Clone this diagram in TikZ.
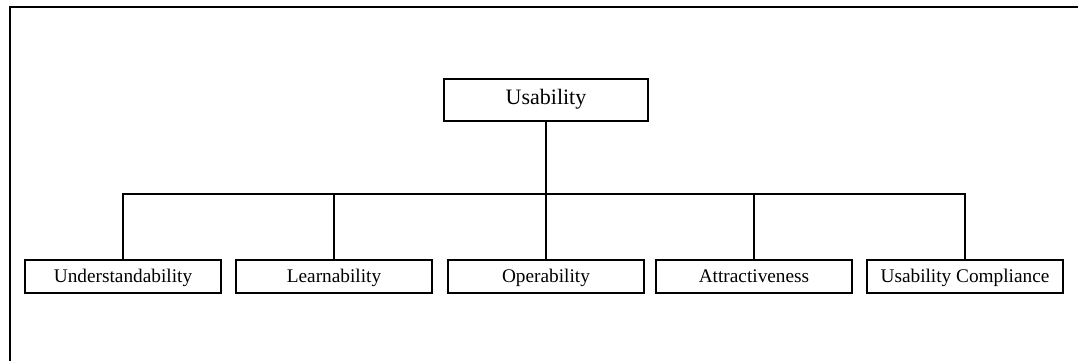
\documentclass[tikz,border=0pt]{standalone}
\usepackage{fontspec}
\setmainfont{Liberation Serif}
\begin{document}
\begin{tikzpicture}[x=1pt,y=-1pt,
  box/.style={draw, line width=2pt, inner sep=0pt, minimum width=196pt, minimum height=33pt, text height=12pt, text depth=0pt, font=\fontsize{19.3}{21}\selectfont},
  topbox/.style={draw, line width=2pt, inner sep=0pt, minimum width=204pt, minimum height=42pt, text height=9.5pt, text depth=0pt, font=\fontsize{22}{24}\selectfont},
  conn/.style={line width=1.9pt}]
\useasboundingbox (0,0) rectangle (1078,360);
\coordinate (fa) at (10,361);
\coordinate (fb) at (10,7);
\coordinate (fc) at (1079,7);
\draw[line width=2.6pt] (fa) -- (fb) -- (fc);
\node[topbox] (u) at (546,99.5) {Usability};
\node[box] (b1) at (123,276) {Understandability};
\node[box] (b2) at (334,276) {Learnability};
\node[box] (b3) at (546,276) {Operability};
\node[box] (b4) at (754,276) {Attractiveness};
\node[box] (b5) at (965,276) {Usability Compliance};
\coordinate (bus) at (546,194);
\draw[conn] (u.south) -- (b3.north);
\draw[conn] (b1.north) |- (bus) -| (b5.north);
\draw[conn] (b2.north) -- (b2.north |- bus);
\draw[conn] (b4.north) -- (b4.north |- bus);
\end{tikzpicture}
\end{document}
